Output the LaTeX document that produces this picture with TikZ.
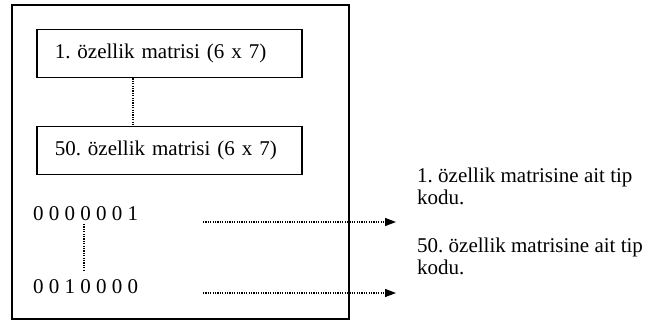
\documentclass[tikz,border=0pt]{standalone}
\usepackage{fontspec}
\setmainfont{Liberation Serif}
\usetikzlibrary{arrows.meta,calc}
\frenchspacing

\tikzset{
  txt/.style={font=\fontsize{21}{22}\selectfont, inner sep=0pt},
  matbox/.style={draw, line width=1.5pt, anchor=north west,
    minimum width=265pt, minimum height=48pt, text width=229pt,
    inner xsep=18pt, inner ysep=0pt, align=left,
    font=\fontsize{21}{22}\selectfont},
  dots/.style={line width=1.3pt, dash pattern=on 1.2pt off 1.2pt},
  codearrow/.style={dots, -{Triangle[length=11pt,width=8pt]}}
}

\begin{document}
\begin{tikzpicture}[x=1pt,y=-1pt]
  \useasboundingbox (0,0) rectangle (651,323);

  % outer frame
  \draw[line width=2pt] (12,5) rectangle (349,319);

  % feature matrices
  \node[matbox] (m1) at (36,29) {1. özellik matrisi (6 x 7)};
  \node[matbox] (m50) at (36,126) {50. özellik matrisi (6 x 7)};
  \draw[dots] ($(m1.south west)+(97,0)$) -- ($(m50.north west)+(97,0)$);

  % type codes
  \node[txt, anchor=base west] (c1) at (33,221) {0 0 0 0 0 0 1};
  \node[txt, anchor=base west] (c50) at (33,294) {0 0 1 0 0 0 0};
  \draw[dots] ($(c1.base west)+(51,3)$) -- ($(c50.base west)+(51,-24)$);

  % descriptions
  \node[txt, anchor=base west, align=left] (d1) at (417,205)
    {1. özellik matrisine ait tip\\kodu.};
  \node[txt, anchor=base west, align=left] (d50) at (417,275)
    {50. özellik matrisine ait tip\\kodu.};

  \coordinate (a1s) at (203,222);
  \coordinate (a1e) at (396,222);
  \coordinate (a50s) at (203,293);
  \coordinate (a50e) at (396,293);
  \draw[codearrow] (a1s) -- (a1e);
  \draw[codearrow] (a50s) -- (a50e);
\end{tikzpicture}
\end{document}
